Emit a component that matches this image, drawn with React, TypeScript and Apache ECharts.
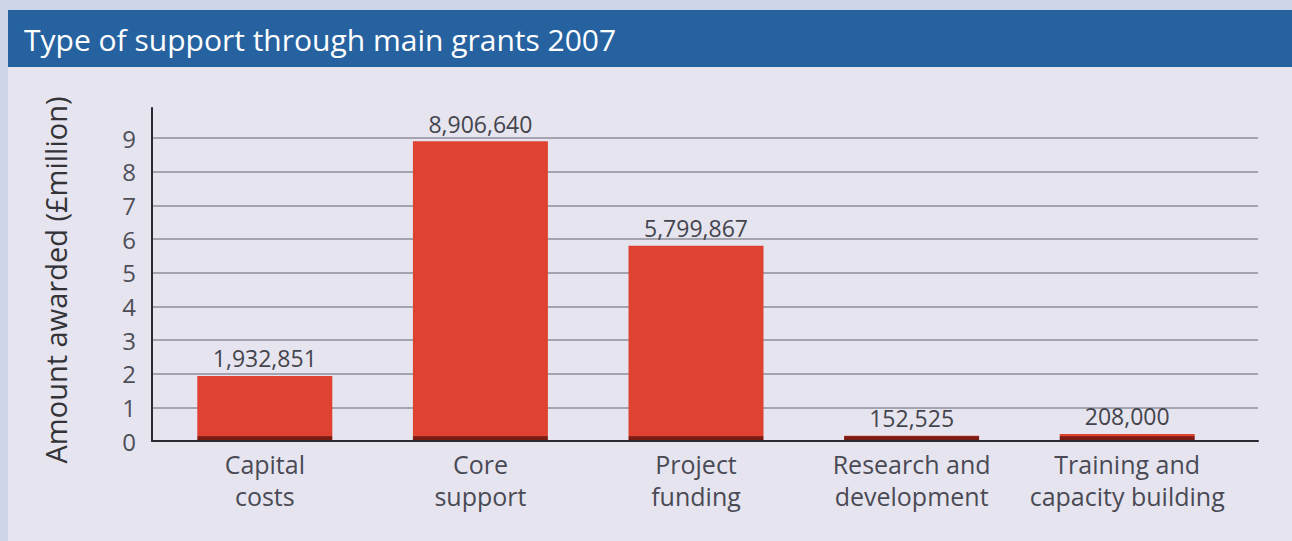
import React, { useEffect, useRef } from "react";
import * as echarts from "echarts";

const titleText = "Type of support through main grants 2007";
const yAxisTitle = "Amount awarded (£million)";
const categories = [
  "Capital\ncosts",
  "Core\nsupport",
  "Project\nfunding",
  "Research and\ndevelopment",
  "Training and\ncapacity building",
];
const amounts = [1932851, 8906640, 5799867, 152525, 208000];
const amountsMillion = amounts.map((v) => v / 1e6);

const FONT = "'Open Sans', 'Noto Sans', sans-serif";
const RED = "#df4231";
const DARK_RED = "#7a1c14";

export default function App() {
  const ref = useRef<HTMLDivElement>(null);
  useEffect(() => {
    if (!ref.current) return;
    const chart = echarts.init(ref.current, null, { renderer: "svg" });
    const barFill = new echarts.graphic.LinearGradient(
      0, 0, 0, 441,
      [
        { offset: 0, color: RED },
        { offset: 0.989, color: RED },
        { offset: 0.99, color: DARK_RED },
        { offset: 1, color: DARK_RED },
      ],
      true
    );
    chart.setOption({
      animation: false,
      backgroundColor: "#cfd5e8",
      textStyle: { fontFamily: FONT },
      graphic: [
        { type: "rect", z: -10, shape: { x: 8, y: 67, width: 1284, height: 474 }, style: { fill: "#e6e5ef" } },
        { type: "rect", z: -10, shape: { x: 8, y: 10, width: 1284, height: 57 }, style: { fill: "#2762a0" } },
        {
          type: "text",
          x: 24,
          y: 39,
          style: {
            text: titleText,
            fill: "#ffffff",
            font: `500 30px ${FONT}`,
            textVerticalAlign: "middle",
          },
        },
        {
          type: "text",
          x: 55,
          y: 280,
          rotation: Math.PI / 2,
          style: {
            text: yAxisTitle,
            fill: "#333338",
            font: `29px ${FONT}`,
            textAlign: "center",
            textVerticalAlign: "middle",
          },
        },
      ],
      grid: [
        { left: 152, right: 34, top: 108, bottom: 100 },
        { left: 152, right: 34, top: 138, bottom: 100 },
        { left: 157, right: 57, top: 138, bottom: 100 },
      ],
      xAxis: [
        {
          gridIndex: 0,
          type: "value",
          min: 0,
          max: 1,
          z: 5,
          axisLine: { show: true, lineStyle: { color: "#2a2a30", width: 2 } },
          axisTick: { show: false },
          axisLabel: { show: false },
          splitLine: { show: false },
        },
        {
          gridIndex: 1,
          type: "value",
          show: false,
          min: 0,
          max: 1,
        },
        {
          gridIndex: 2,
          type: "category",
          data: categories,
          axisLine: { show: false },
          axisTick: { show: false },
          axisLabel: {
            interval: 0,
            color: "#4a4a55",
            fontSize: 25,
            lineHeight: 32,
            margin: 7,
            fontFamily: FONT,
          },
        },
      ],
      yAxis: [
        {
          gridIndex: 0,
          type: "value",
          min: 0,
          max: 1,
          z: 5,
          axisLine: { show: true, lineStyle: { color: "#2a2a30", width: 2 } },
          axisTick: { show: false },
          axisLabel: { show: false },
          splitLine: { show: false },
        },
        {
          gridIndex: 1,
          type: "value",
          min: 0,
          max: 9,
          interval: 1,
          axisLine: { show: false },
          axisTick: { show: false },
          axisLabel: { color: "#4e4e58", fontSize: 24, margin: 16, fontFamily: FONT },
          splitLine: { show: true, lineStyle: { color: "#8e8e9a", width: 1.5 } },
        },
        {
          gridIndex: 2,
          type: "value",
          min: 0,
          max: 9,
          show: false,
        },
      ],
      series: [
        {
          type: "bar",
          xAxisIndex: 2,
          yAxisIndex: 2,
          data: amountsMillion,
          barWidth: 135,
          itemStyle: { color: barFill },
          label: {
            show: true,
            position: "top",
            distance: 6,
            color: "#44444c",
            fontSize: 23,
            fontFamily: FONT,
            formatter: (p: any) => amounts[p.dataIndex].toLocaleString("en-GB"),
          },
        },
      ],
    });
    return () => chart.dispose();
  }, []);
  return (
    <div
      ref={ref}
      style={{ position: "absolute", left: 0, top: 0, width: 1292, height: 541 }}
    />
  );
}
